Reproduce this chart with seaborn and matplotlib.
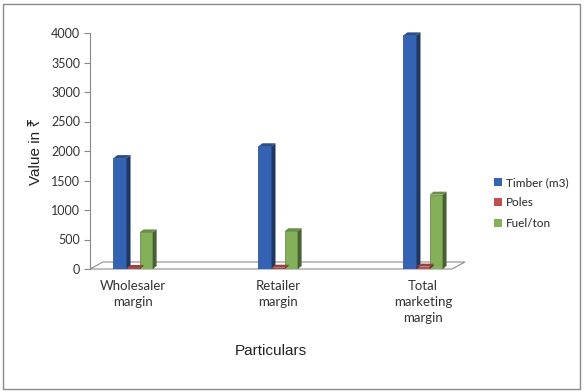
import matplotlib
matplotlib.use("Agg")
import matplotlib.pyplot as plt
from matplotlib.patches import Polygon, Rectangle
from matplotlib.colors import to_rgb
import seaborn as sns
import pandas as pd

# Marketing margins by channel
categories = ["Wholesaler\nmargin", "Retailer\nmargin", "Total\nmarketing\nmargin"]
series = ["Timber (m3)", "Poles", "Fuel/ton"]
timber = [1880, 2080, 3960]
poles = [18, 22, 40]
fuel = [620, 640, 1260]
yticks = [0, 500, 1000, 1500, 2000, 2500, 3000, 3500, 4000]
colors = ["#3563b3", "#c0504d", "#84b05a"]

rows = []
for name, vals in zip(series, [timber, poles, fuel]):
    for cat, v in zip(categories, vals):
        rows.append({"Particulars": cat, "Series": name, "Value": v})
df = pd.DataFrame(rows)

sns.set_theme(style="white")
plt.rcParams["font.family"] = ["Lato", "DejaVu Sans"]

fig = plt.figure(figsize=(5.84, 3.92), dpi=100)
ax = fig.add_axes([90 / 584, 123 / 392, 362 / 584, 236 / 392])

sns.barplot(data=df, x="Particulars", y="Value", hue="Series",
            palette=colors, width=0.27, saturation=1, ax=ax,
            edgecolor="none", zorder=3, legend=True)

ax.set_xlim(-0.297, 2.2)
ax.set_ylim(0, 4000)
ax.set_yticks(yticks)
ax.set_yticklabels([str(t) for t in yticks], fontsize=9, color="#333333")
ax.tick_params(axis="y", direction="out", length=4, width=0.8, color="#888888", pad=3, left=True)
ax.tick_params(axis="x", length=0, pad=8)
for lbl in ax.get_xticklabels():
    lbl.set_fontsize(9.5)
    lbl.set_color("#333333")
    lbl.set_linespacing(1.4)
    lbl.set_verticalalignment("top")

for side in ["top", "right", "bottom"]:
    ax.spines[side].set_visible(False)
ax.spines["left"].set_color("#888888")
ax.spines["left"].set_linewidth(0.8)

# pixel-to-data scale for the depth offsets
px_x = 1 / 145.0
px_y = 4000 / 236.0

# floor of the 3-D plot area
xl, xr = ax.get_xlim()
fdx, fdy = 13 * px_x, 7 * px_y
floor = Polygon([(xl, 0), (xr, 0), (xr + fdx, fdy), (xl + fdx, fdy)],
                closed=True, facecolor="white", edgecolor="#8c8c8c",
                linewidth=0.8, clip_on=False, zorder=1)
ax.add_patch(floor)

# side and top faces give each column depth
bdx, bdy = 4 * px_x, 3 * px_y
for patch in list(ax.patches):
    if not isinstance(patch, Rectangle) or patch.get_height() <= 0:
        continue
    x0 = patch.get_x()
    w = patch.get_width()
    h = patch.get_height()
    base = to_rgb(patch.get_facecolor())
    dark = tuple(c * 0.55 for c in base)
    mid = tuple(c * 0.8 for c in base)
    side = Polygon([(x0 + w, 0), (x0 + w + bdx, bdy), (x0 + w + bdx, h + bdy), (x0 + w, h)],
                   closed=True, facecolor=dark, edgecolor="none", zorder=3, clip_on=False)
    top = Polygon([(x0, h), (x0 + bdx, h + bdy), (x0 + w + bdx, h + bdy), (x0 + w, h)],
                  closed=True, facecolor=mid, edgecolor="none", zorder=3, clip_on=False)
    ax.add_patch(side)
    ax.add_patch(top)
    patch.set_edgecolor(tuple(c * 0.7 for c in base))
    patch.set_linewidth(0.5)

ax.set_xlabel("Particulars", fontsize=11, color="#222222",
              family=["Liberation Sans", "DejaVu Sans"], labelpad=14)
ax.set_ylabel("Value in ₹", fontsize=11, color="#222222",
              family=["Liberation Sans", "Noto Sans", "DejaVu Sans"], labelpad=6)

handles, labels = ax.get_legend_handles_labels()
ax.legend_.remove()
fig.legend(handles, labels, loc="center left", bbox_to_anchor=(494 / 584, 1 - 203 / 392),
           frameon=False, fontsize=8.5, handlelength=0.65, handleheight=0.65,
           handletextpad=0.35, labelspacing=0.8, borderaxespad=0, borderpad=0)

# outer chart border
fig.patches.append(Rectangle((3 / 584, 3 / 392), 577 / 584, 385 / 392,
                             transform=fig.transFigure, fill=False,
                             edgecolor="#8a8a8a", linewidth=1.0))

fig.savefig("out.png", dpi=100)
